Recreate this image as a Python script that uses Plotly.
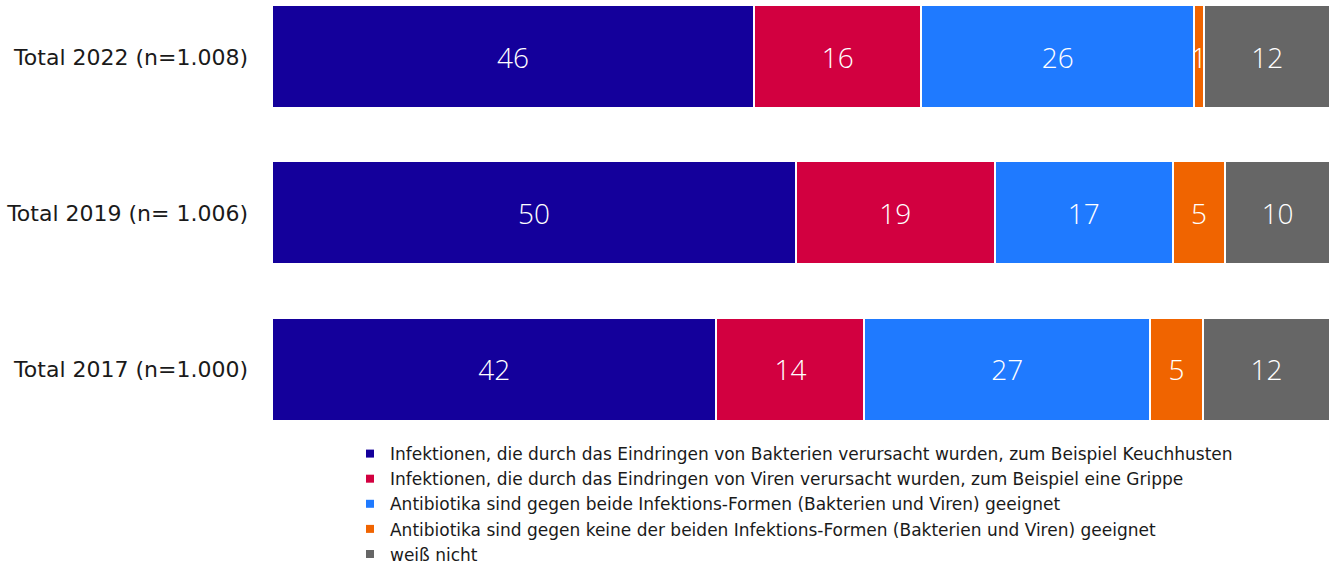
import plotly.graph_objects as go

categories = ["Total 2022 (n=1.008)", "Total 2019 (n= 1.006)", "Total 2017 (n=1.000)"]

series_names = [
    "Infektionen, die durch das Eindringen von Bakterien verursacht wurden, zum Beispiel Keuchhusten",
    "Infektionen, die durch das Eindringen von Viren verursacht wurden, zum Beispiel eine Grippe",
    "Antibiotika sind gegen beide Infektions-Formen (Bakterien und Viren) geeignet",
    "Antibiotika sind gegen keine der beiden Infektions-Formen (Bakterien und Viren) geeignet",
    "weiß nicht",
]

bakterien = [46, 50, 42]
viren = [16, 19, 14]
beide = [26, 17, 27]
keine = [1, 5, 5]
weiss_nicht = [12, 10, 12]

colors = ["#14009B", "#D20040", "#1F7AFF", "#F06400", "#666666"]

label_font = "DejaVu Sans"
number_font = "Open Sans"

fig = go.Figure()

for i, (name, vals) in enumerate(zip(series_names, [bakterien, viren, beide, keine, weiss_nicht])):
    fig.add_trace(go.Bar(
        y=categories, x=vals, orientation="h", name=name,
        marker=dict(color=colors[i], line=dict(color="white", width=2)),
        text=vals, texttemplate="%{text}", textposition="inside", insidetextanchor="middle",
        textangle=0, constraintext="none",
        textfont=dict(color="white", size=28, family=number_font, weight=300),
        showlegend=False, hoverinfo="text+name",
    ))
    # small square markers for the legend
    fig.add_trace(go.Scatter(
        x=[None], y=[None], mode="markers", name=name, legendgroup=str(i),
        marker=dict(symbol="square", size=8, color=colors[i]),
    ))

fig.update_layout(
    barmode="stack",
    barnorm="percent",
    bargap=0.34,
    width=1330, height=565,
    margin=dict(l=272, r=0, t=0, b=125, autoexpand=False),
    plot_bgcolor="white", paper_bgcolor="white",
    font=dict(family=label_font, color="#1a1a1a"),
    xaxis=dict(range=[0, 100], visible=False),
    yaxis=dict(
        categoryorder="array", categoryarray=categories,
        range=[2.455, -0.365], ticks="", ticklabelstandoff=23,
        tickfont=dict(size=22, color="#1a1a1a"), showgrid=False,
    ),
    legend=dict(
        x=0.0737, y=0.009, xanchor="left", yanchor="top",
        font=dict(size=17, color="#1a1a1a"), tracegroupgap=0,
        bgcolor="rgba(0,0,0,0)",
    ),
)

# drop the browser's default body margin so the figure sits at the page corner
fig.write_html(
    "out.html",
    config={"displayModeBar": False},
    post_script="document.body.style.margin='0';document.body.style.overflow='hidden';",
)
